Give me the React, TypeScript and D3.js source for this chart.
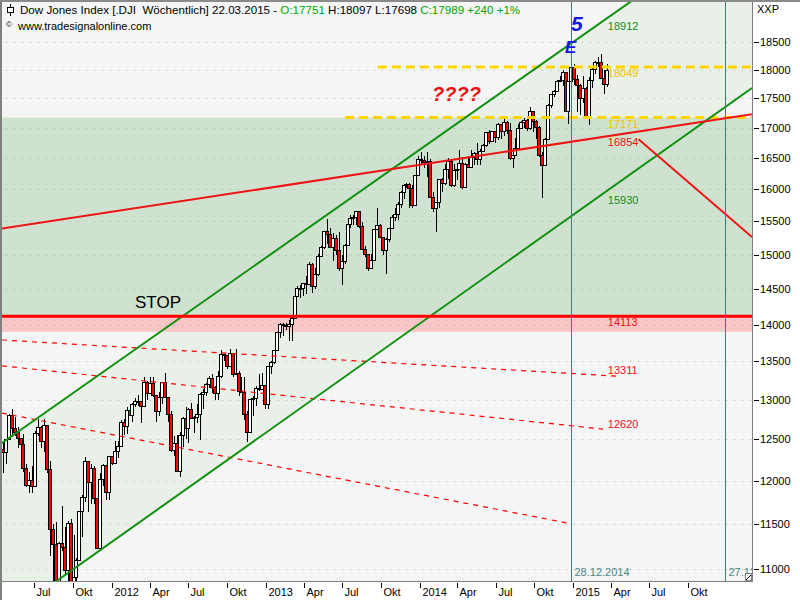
import React from 'react';
import * as d3 from 'd3';

const parseDay = d3.timeParse('%Y-%m-%d');
const day = (s: string) => parseDay(s) as Date;

// weekly bars are dated on the Sunday after the trading week
const FIRST_BAR = '2011-04-17';
const FIRST_OPEN = 12380;
const LAST_OPEN = 17751;

// [high, low, close] per week
const bars2011: [number, number, number][] = [
  [12450, 12093, 12341], [12506, 12201, 12505], [12811, 12490, 12810], [12876, 12530, 12638],
  [12780, 12540, 12596], [12650, 12400, 12512], [12520, 12300, 12441], [12570, 12100, 12151],
  [12200, 11930, 11952], [12100, 11860, 12004], [12170, 11860, 11934], [12600, 11930, 12582],
  [12753, 12540, 12657], [12660, 12400, 12479], [12750, 12350, 12681], [12680, 12090, 12143],
  [12240, 11140, 11444], [11500, 10604, 11269], [11520, 10780, 10817], [11300, 10800, 11284],
  [11700, 11200, 11240], [11460, 10930, 10992], [11530, 10800, 11509], [11550, 10600, 10771],
  [11370, 10760, 10913], [11123, 10362, 11103], [11650, 11100, 11644], [11830, 11350, 11808],
  [12284, 11750, 12231], [12230, 11640, 11983], [12200, 11730, 12153], [12170, 11730, 11796],
  [11790, 11230, 11231], [12090, 11250, 12019], [12200, 11940, 12184], [12180, 11780, 11867],
  [12300, 11770, 12294], [12300, 12190, 12218],
];

const bars2012: [number, number, number][] = [
  [12480, 12200, 12360], [12480, 12270, 12422], [12740, 12420, 12720], [12760, 12560, 12660],
  [12900, 12570, 12862], [12950, 12790, 12801], [12960, 12720, 12950], [13020, 12900, 12983],
  [13060, 12920, 12978], [12980, 12700, 12922], [13290, 12920, 13233], [13240, 13000, 13081],
  [13290, 13070, 13212], [13300, 13040, 13060], [13060, 12710, 12850], [13100, 12790, 13029],
  [13230, 12940, 13228], [13340, 13030, 13038], [13030, 12710, 12821], [12850, 12340, 12369],
  [12540, 12300, 12455], [12560, 12100, 12118], [12590, 12040, 12554], [12780, 12410, 12767],
  [12900, 12500, 12640], [12890, 12460, 12880], [12960, 12760, 12772], [12790, 12580, 12777],
  [12950, 12700, 12822], [13090, 12490, 13075], [13140, 12880, 13096], [13210, 13050, 13207],
  [13310, 13150, 13275], [13330, 13080, 13157], [13180, 13000, 13090], [13370, 13000, 13306],
  [13650, 13280, 13593], [13600, 13500, 13579], [13580, 13400, 13437], [13660, 13440, 13610],
  [13600, 13300, 13328], [13660, 13330, 13344], [13370, 13050, 13107], [13290, 13080, 13093],
  [13290, 12740, 12815], [12850, 12470, 12588], [13010, 12590, 13010], [13050, 12790, 13026],
  [13170, 12920, 13155], [13330, 13110, 13135], [13350, 13130, 13191], [13180, 12880, 12938],
];

const bars2013: [number, number, number][] = [
  [13440, 12880, 13435], [13500, 13330, 13488], [13650, 13460, 13650], [13900, 13640, 13896],
  [14020, 13820, 14010], [14020, 13840, 13993], [14020, 13930, 13982], [14060, 13780, 14001],
  [14100, 13780, 14090], [14420, 14080, 14397], [14540, 14380, 14514], [14560, 14370, 14512],
  [14590, 14400, 14579], [14690, 14430, 14565], [14890, 14560, 14865], [14870, 14440, 14547],
  [14800, 14500, 14712], [15010, 14690, 14974], [15130, 14960, 15118], [15360, 15080, 15354],
  [15540, 15150, 15303], [15400, 15100, 15116], [15320, 14900, 15248], [15300, 14990, 15070],
  [15340, 14760, 14799], [15000, 14550, 14910], [15160, 14860, 15136], [15480, 15130, 15464],
  [15600, 15400, 15544], [15590, 15450, 15559], [15660, 15440, 15658], [15640, 15400, 15425],
  [15490, 15070, 15081], [15130, 14960, 15010], [15000, 14760, 14810], [15010, 14800, 14922],
  [15390, 14930, 15376], [15710, 15380, 15451], [15460, 15250, 15258], [15230, 15000, 15072],
  [15240, 14720, 15237], [15400, 15180, 15399], [15600, 15390, 15570], [15710, 15500, 15615],
  [15800, 15520, 15761], [15970, 15700, 15962], [16080, 15850, 16065], [16100, 16020, 16086],
  [16090, 15700, 16020], [16060, 15700, 15755], [16230, 15730, 16221], [16530, 16220, 16479],
];

const bars2014: [number, number, number][] = [
  [16590, 16400, 16469], [16530, 16340, 16437], [16590, 16200, 16459], [16490, 15870, 15879],
  [15950, 15650, 15699], [15800, 15340, 15794], [16160, 15700, 16154], [16170, 15950, 16103],
  [16400, 16070, 16321], [16500, 16160, 16452], [16450, 16030, 16065], [16400, 16040, 16302],
  [16370, 16150, 16323], [16630, 16300, 16412], [16520, 16010, 16027], [16420, 16020, 16409],
  [16530, 16330, 16361], [16630, 16330, 16513], [16600, 16390, 16583], [16740, 16380, 16491],
  [16640, 16390, 16606], [16730, 16600, 16717], [16930, 16680, 16924], [16970, 16730, 16776],
  [16950, 16760, 16947], [16950, 16740, 16851], [17080, 16800, 17068], [17040, 16820, 16944],
  [17150, 16870, 17100], [17120, 16900, 16961], [17080, 16460, 16493], [16630, 16330, 16554],
  [16830, 16550, 16663], [17060, 16680, 17001], [17120, 16990, 17098], [17160, 17000, 17138],
  [17140, 16940, 16988], [17350, 16970, 17280], [17290, 16930, 17113], [17130, 16820, 17009],
  [17030, 16520, 16544], [16590, 15855, 16380], [16830, 16390, 16805], [17400, 16800, 17391],
  [17580, 17340, 17573], [17650, 17530, 17635], [17820, 17630, 17810], [17890, 17780, 17828],
  [17990, 17710, 17958], [17940, 17270, 17281], [17810, 17070, 17804], [18103, 17840, 18053],
];

const bars2015: [number, number, number][] = [
  [18100, 17740, 17833], [17910, 17260, 17737], [17750, 17210, 17511], [17890, 17420, 17672],
  [17700, 17140, 17165], [17880, 17040, 17824], [18030, 17680, 18019], [18160, 17930, 18140],
  [18220, 18050, 18133], [18290, 17840, 17856], [17990, 17580, 17749], [18097, 17698, 17989],
];

// drawn lines, each as [date, value] anchors
const channelUpper: [string, number][] = [['2011-04-15', 12456], ['2016-03-01', 20940]];
const channelLower: [string, number][] = [['2011-04-15', 10462], ['2016-03-01', 17679]];
const redTrend: [string, number][] = [['2011-04-15', 15390], ['2016-03-01', 17229]];
const redFall: [string, number][] = [['2015-06-02', 16830], ['2016-03-01', 15263]];
const redDashed: [string, number][][] = [
  [['2011-04-15', 13788], ['2015-04-13', 13305]],
  [['2011-04-15', 13440], ['2015-03-13', 12628]],
  [['2011-04-15', 12828], ['2014-12-29', 11500]],
];
const yellowLevels: [string, number][] = [['2013-09-24', 18049], ['2013-07-08', 17171]];
const zoneTop = 17171;
const stopLevel = 14113;
const stopBandLow = 13900;

const levelLabels: { value: number; kind: string }[] = [
  { value: 18912, kind: 'channel' },
  { value: 18049, kind: 'yellow' },
  { value: 17171, kind: 'yellow' },
  { value: 16854, kind: 'trend' },
  { value: 15930, kind: 'channel' },
  { value: 14113, kind: 'trend' },
  { value: 13311, kind: 'dashed' },
  { value: 12620, kind: 'dashed' },
];

// vertical markers; the second label is cut off by the axis in the original
const markers: [string, string][] = [['2014-12-28', '28.12.2014'], ['2015-12-27', '27.12']];
const yTicks = [11000, 11500, 12000, 12500, 13000, 13500, 14000, 14500, 15000, 15500, 16000, 16500, 17000, 17500, 18000, 18500];
const quarterNames = ['', 'Apr', 'Jul', 'Okt'];

const FONT = "'Liberation Sans', Arial, sans-serif";
const L = 2, R = 752, T = 2, B = 581;

const allBars = [...bars2011, ...bars2012, ...bars2013, ...bars2014, ...bars2015];
const candles = allBars.map(([high, low, close], i) => ({
  date: d3.timeWeek.offset(day(FIRST_BAR), i),
  open: i === 0 ? FIRST_OPEN : i === allBars.length - 1 ? LAST_OPEN : allBars[i - 1][2],
  high,
  low,
  close,
}));

const labelStyle: Record<string, { fill: string; dy: number }> = {
  channel: { fill: '#168a16', dy: 10 },
  yellow: { fill: '#f2c200', dy: 10 },
  trend: { fill: '#ee1111', dy: 10 },
  dashed: { fill: '#ee1111', dy: -2 },
};

export default function App() {
  const x = d3.scaleTime().domain([day('2011-04-15'), day('2016-03-01')]).range([L, R]);
  const y = d3.scaleLog().domain([10870, 19245]).range([B, T]);

  const pt = ([d, v]: [string, number]) => [x(day(d)), y(v)] as [number, number];
  const seg = (a: [string, number][]) => {
    const [p0, p1] = a.map(pt);
    return { x1: p0[0], y1: p0[1], x2: p1[0], y2: p1[1] };
  };

  const channelPoly = [...channelUpper.map(pt), ...channelLower.map(pt).reverse()];
  const last = candles[candles.length - 1];
  const prev = candles[candles.length - 2];
  const lastX = x(last.date);
  const change = last.close - prev.close;
  const pct = Math.round((change / prev.close) * 100);

  const quarters = d3.timeMonth.range(day('2011-07-01'), day('2015-10-02'), 3);

  return (
    <svg width={800} height={600} style={{ position: 'absolute', left: 0, top: 0 }} fontFamily={FONT}>
      <defs>
        <clipPath id="plot">
          <rect x={L} y={T} width={R - L} height={B - T} />
        </clipPath>
      </defs>
      <rect x={0} y={0} width={800} height={600} fill="#ffffff" />
      <rect x={L} y={T} width={R - L} height={B - T} fill="#f5f5f5" />

      <g clipPath="url(#plot)">
        <polygon points={channelPoly.map(p => p.join(',')).join(' ')} fill="#e8f0e8" />
        <rect x={L} y={y(zoneTop)} width={R - L} height={y(stopLevel) - y(zoneTop)} fill="#cfe2cf" />
        <rect x={L} y={y(stopLevel)} width={R - L} height={y(stopBandLow) - y(stopLevel)} fill="#f8c6c6" />

        {yTicks.map(t => (
          <line key={t} x1={L + 4} x2={R} y1={Math.round(y(t)) + 0.5} y2={Math.round(y(t)) + 0.5}
            stroke="#a9a9a9" strokeDasharray="1,7" />
        ))}

        {candles.map((c, i) => {
          const cx = Math.round(x(c.date));
          const top = Math.round(y(Math.max(c.open, c.close)));
          const bot = Math.round(y(Math.min(c.open, c.close)));
          return (
            <g key={i} shapeRendering="crispEdges">
              <line x1={cx + 0.5} x2={cx + 0.5} y1={Math.round(y(c.high))} y2={Math.round(y(c.low))} stroke="#000" />
              <rect x={cx - 1.5} y={top + 0.5} width={3} height={Math.max(bot - top, 1)}
                fill={c.close >= c.open ? '#ffffff' : '#ff0000'} stroke="#000" />
            </g>
          );
        })}

        {redDashed.map((d, i) => (
          <line key={i} {...seg(d)} stroke="#ff0000" strokeWidth={1.2} strokeDasharray="5,5" />
        ))}

        {yellowLevels.map(([d, v]) => (
          <line key={v} x1={x(day(d))} x2={R} y1={y(v)} y2={y(v)} stroke="#ffd500" strokeWidth={3} strokeDasharray="9,5" />
        ))}

        <line {...seg(channelUpper)} stroke="#119011" strokeWidth={2} />
        <line {...seg(channelLower)} stroke="#119011" strokeWidth={2} />
        <line {...seg(redTrend)} stroke="#ee1515" strokeWidth={2} />
        <line {...seg(redFall)} stroke="#ee1515" strokeWidth={2} />
        <circle cx={pt(redFall[0])[0]} cy={pt(redFall[0])[1]} r={2} fill="#f6e6c4" />
        <line x1={L} x2={R} y1={y(stopLevel)} y2={y(stopLevel)} stroke="#ff0000" strokeWidth={3} />

        {markers.map(([d, label]) => {
          const mx = Math.round(x(day(d))) + 0.5;
          return (
            <g key={d}>
              <line x1={mx} x2={mx} y1={T} y2={B} stroke="#3f7d7d" strokeWidth={1} />
              <text x={mx + 3} y={576} fontSize={11} fill="#4a8686">{label}</text>
            </g>
          );
        })}

        {levelLabels.map(l => (
          <text key={l.value} x={lastX + 1} y={y(l.value) + labelStyle[l.kind].dy} fontSize={11}
            fill={labelStyle[l.kind].fill}>{l.value}</text>
        ))}

        <text x={571} y={31} fontSize={21} fontWeight="bold" fontStyle="italic" fill="#1515e6">5</text>
        <text x={565} y={53} fontSize={17} fontWeight="bold" fontStyle="italic" fill="#1515e6">E</text>
        <text x={432} y={101} fontSize={20} fontWeight="bold" fontStyle="italic" fill="#ee1111">????</text>
        <text x={135} y={308} fontSize={17} fill="#000">STOP</text>
      </g>

      {/* header */}
      <g>
        <line x1={10.5} x2={10.5} y1={4} y2={16} stroke="#000" />
        <rect x={7.5} y={7.5} width={6} height={5} fill="#fff" stroke="#000" />
        <text x={20} y={14} fontSize={11.6} fill="#000" style={{ whiteSpace: 'pre' }}>
          {'Dow Jones Index [.DJI  Wöchentlich] 22.03.2015 - '}
          <tspan fill="#00a800">{`O:${last.open}`}</tspan>
          {` H:${last.high} L:${last.low} `}
          <tspan fill="#00a800">{`C:${last.close} +${change} +${pct}%`}</tspan>
        </text>
        <text x={6} y={27} fontSize={8} fill="#000">©</text>
        <text x={18} y={30} fontSize={11} fill="#000">www.tradesignalonline.com</text>
      </g>

      {/* right axis */}
      <line x1={R + 0.5} x2={R + 0.5} y1={0} y2={B + 1} stroke="#808080" />
      {yTicks.map(t => (
        <g key={t}>
          <line x1={R + 2} x2={R + 7} y1={Math.round(y(t)) + 0.5} y2={Math.round(y(t)) + 0.5} stroke="#000" />
          <text x={R + 8} y={y(t) + 4} fontSize={11} fill="#000">{t}</text>
        </g>
      ))}
      <text x={757} y={13} fontSize={11} fill="#000">XXP</text>

      {/* bottom axis */}
      <line x1={0} x2={R + 1} y1={B + 0.5} y2={B + 0.5} stroke="#808080" />
      {quarters.map(q => {
        const qx = Math.round(x(q)) + 0.5;
        const m = q.getMonth();
        return (
          <g key={+q}>
            <line x1={qx} x2={qx} y1={583} y2={588} stroke="#000" />
            <text x={qx + 2} y={596} fontSize={11} fill="#000">
              {m === 0 ? String(q.getFullYear()) : quarterNames[m / 3]}
            </text>
          </g>
        );
      })}

      {/* corner glyph and frame */}
      <rect x={745.5} y={573.5} width={6} height={7} fill="#fff" stroke="#808080" />
      <line x1={746} y1={580} x2={751} y2={575} stroke="#000" />
      <rect x={0} y={0} width={2} height={600} fill="#808080" />
      <rect x={0} y={0} width={800} height={2} fill="#8a8a8a" />
    </svg>
  );
}
